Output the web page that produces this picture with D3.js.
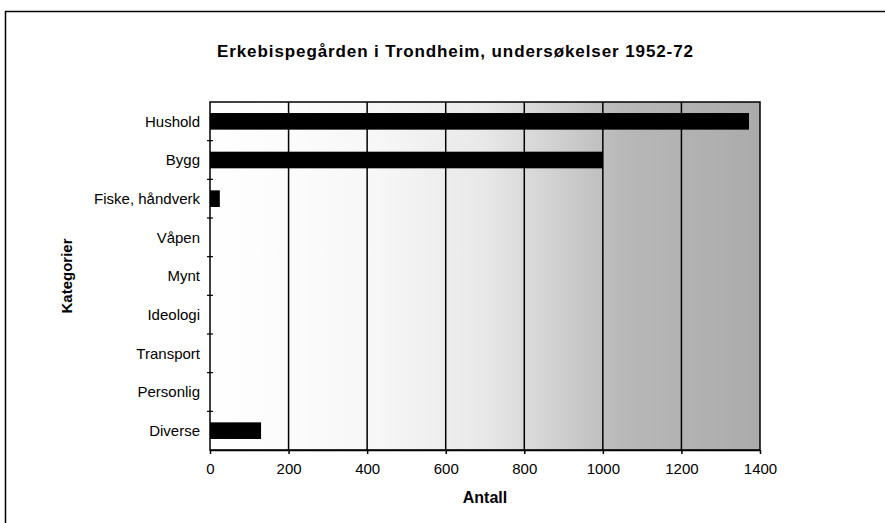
<!DOCTYPE html>
<html>
<head>
<meta charset="utf-8">
<script src="https://cdn.jsdelivr.net/npm/d3@7"></script>
<style>
  body { margin: 0; background: #fff; }
  text { font-family: "Liberation Sans", Arial, sans-serif; fill: #000; }
</style>
</head>
<body>
<div id="chart"></div>
<script>
'use strict';

const categories = ['Hushold', 'Bygg', 'Fiske, håndverk', 'Våpen', 'Mynt', 'Ideologi', 'Transport', 'Personlig', 'Diverse'];
const counts = [1372, 1000, 25, 0, 0, 0, 0, 0, 130];
const xTicks = [0, 200, 400, 600, 800, 1000, 1200, 1400];
const title = 'Erkebispegården i Trondheim, undersøkelser 1952-72';
const xTitle = 'Antall';
const yTitle = 'Kategorier';

const W = 885, H = 523;
const margin = { top: 102, right: 125, bottom: 73, left: 210 };
const width = W - margin.left - margin.right;
const height = H - margin.top - margin.bottom;

const svg = d3.select('#chart').append('svg')
    .attr('width', W)
    .attr('height', H);

// outer frame of the scanned chart
svg.append('rect')
    .attr('x', 5.5).attr('y', 11.5)
    .attr('width', 920).attr('height', 600)
    .attr('fill', 'none')
    .attr('stroke', '#000')
    .attr('stroke-width', 1.5);

// shading of the scan, darker towards the right
const grad = svg.append('defs').append('linearGradient')
    .attr('id', 'scanShade')
    .attr('x1', '0%').attr('x2', '100%').attr('y1', '0%').attr('y2', '0%');
[[0, '#ffffff'], [0.3, '#f7f7f7'], [0.5, '#e8e8e8'], [0.62, '#d2d2d2'], [0.75, '#b8b8b8'], [1, '#ababab']]
    .forEach(s => grad.append('stop').attr('offset', s[0]).attr('stop-color', s[1]));

const g = svg.append('g')
    .attr('transform', `translate(${margin.left},${margin.top})`);

const xScale = d3.scaleLinear()
    .domain([0, 1400])
    .range([0, width]);

const yScale = d3.scaleBand()
    .domain(categories)
    .range([0, height])
    .paddingInner(0.57)
    .paddingOuter(0.285);

g.append('rect')
    .attr('width', width).attr('height', height)
    .attr('fill', 'url(#scanShade)');

// vertical gridlines
g.selectAll('line.grid')
    .data(xTicks.slice(1, -1))
    .join('line')
    .attr('class', 'grid')
    .attr('x1', d => xScale(d)).attr('x2', d => xScale(d))
    .attr('y1', 0).attr('y2', height)
    .attr('stroke', '#000')
    .attr('stroke-width', 1.5);

// bars
g.selectAll('rect.bar')
    .data(categories.map((c, i) => ({ c, v: counts[i] })).filter(d => d.v > 0))
    .join('rect')
    .attr('class', 'bar')
    .attr('x', 0)
    .attr('y', d => yScale(d.c))
    .attr('width', d => xScale(d.v))
    .attr('height', yScale.bandwidth())
    .attr('fill', '#000');

// plot frame
g.append('rect')
    .attr('width', width).attr('height', height)
    .attr('fill', 'none')
    .attr('stroke', '#000')
    .attr('stroke-width', 1.5);

// x axis
const xAxis = g.append('g')
    .attr('transform', `translate(0,${height})`)
    .call(d3.axisBottom(xScale).tickValues(xTicks).tickFormat(d3.format('d'))
        .tickSize(4).tickSizeOuter(0).tickPadding(9));
xAxis.select('.domain').attr('stroke-width', 1.5);
xAxis.selectAll('.tick line').attr('stroke-width', 1.5);
xAxis.selectAll('.tick text')
    .style('font-size', '15px')
    .style('font-family', '"Liberation Sans", Arial, sans-serif');

// y axis: ticks at category boundaries crossing the axis
const step = yScale.step();
const boundaries = categories.slice(1).map(c => yScale(c) - step * yScale.paddingInner() / 2);
g.selectAll('line.ytick')
    .data(boundaries)
    .join('line')
    .attr('class', 'ytick')
    .attr('x1', -3).attr('x2', 3)
    .attr('y1', d => d).attr('y2', d => d)
    .attr('stroke', '#000')
    .attr('stroke-width', 1.2);

g.selectAll('text.ylab')
    .data(categories)
    .join('text')
    .attr('class', 'ylab')
    .attr('x', -10)
    .attr('y', d => yScale(d) + yScale.bandwidth() / 2)
    .attr('dy', '0.35em')
    .attr('text-anchor', 'end')
    .style('font-size', '15px')
    .text(d => d);

// titles
svg.append('text')
    .attr('x', 455)
    .attr('y', 57)
    .attr('text-anchor', 'middle')
    .attr('textLength', 476)
    .attr('lengthAdjust', 'spacing')
    .style('font-size', '17px')
    .style('font-weight', 'bold')
    .text(title);

svg.append('text')
    .attr('x', margin.left + width / 2)
    .attr('y', 503)
    .attr('text-anchor', 'middle')
    .style('font-size', '16px')
    .style('font-weight', 'bold')
    .text(xTitle);

svg.append('text')
    .attr('transform', `translate(72,${margin.top + height / 2}) rotate(-90)`)
    .attr('text-anchor', 'middle')
    .style('font-size', '15px')
    .style('font-weight', 'bold')
    .text(yTitle);
</script>
</body>
</html>
